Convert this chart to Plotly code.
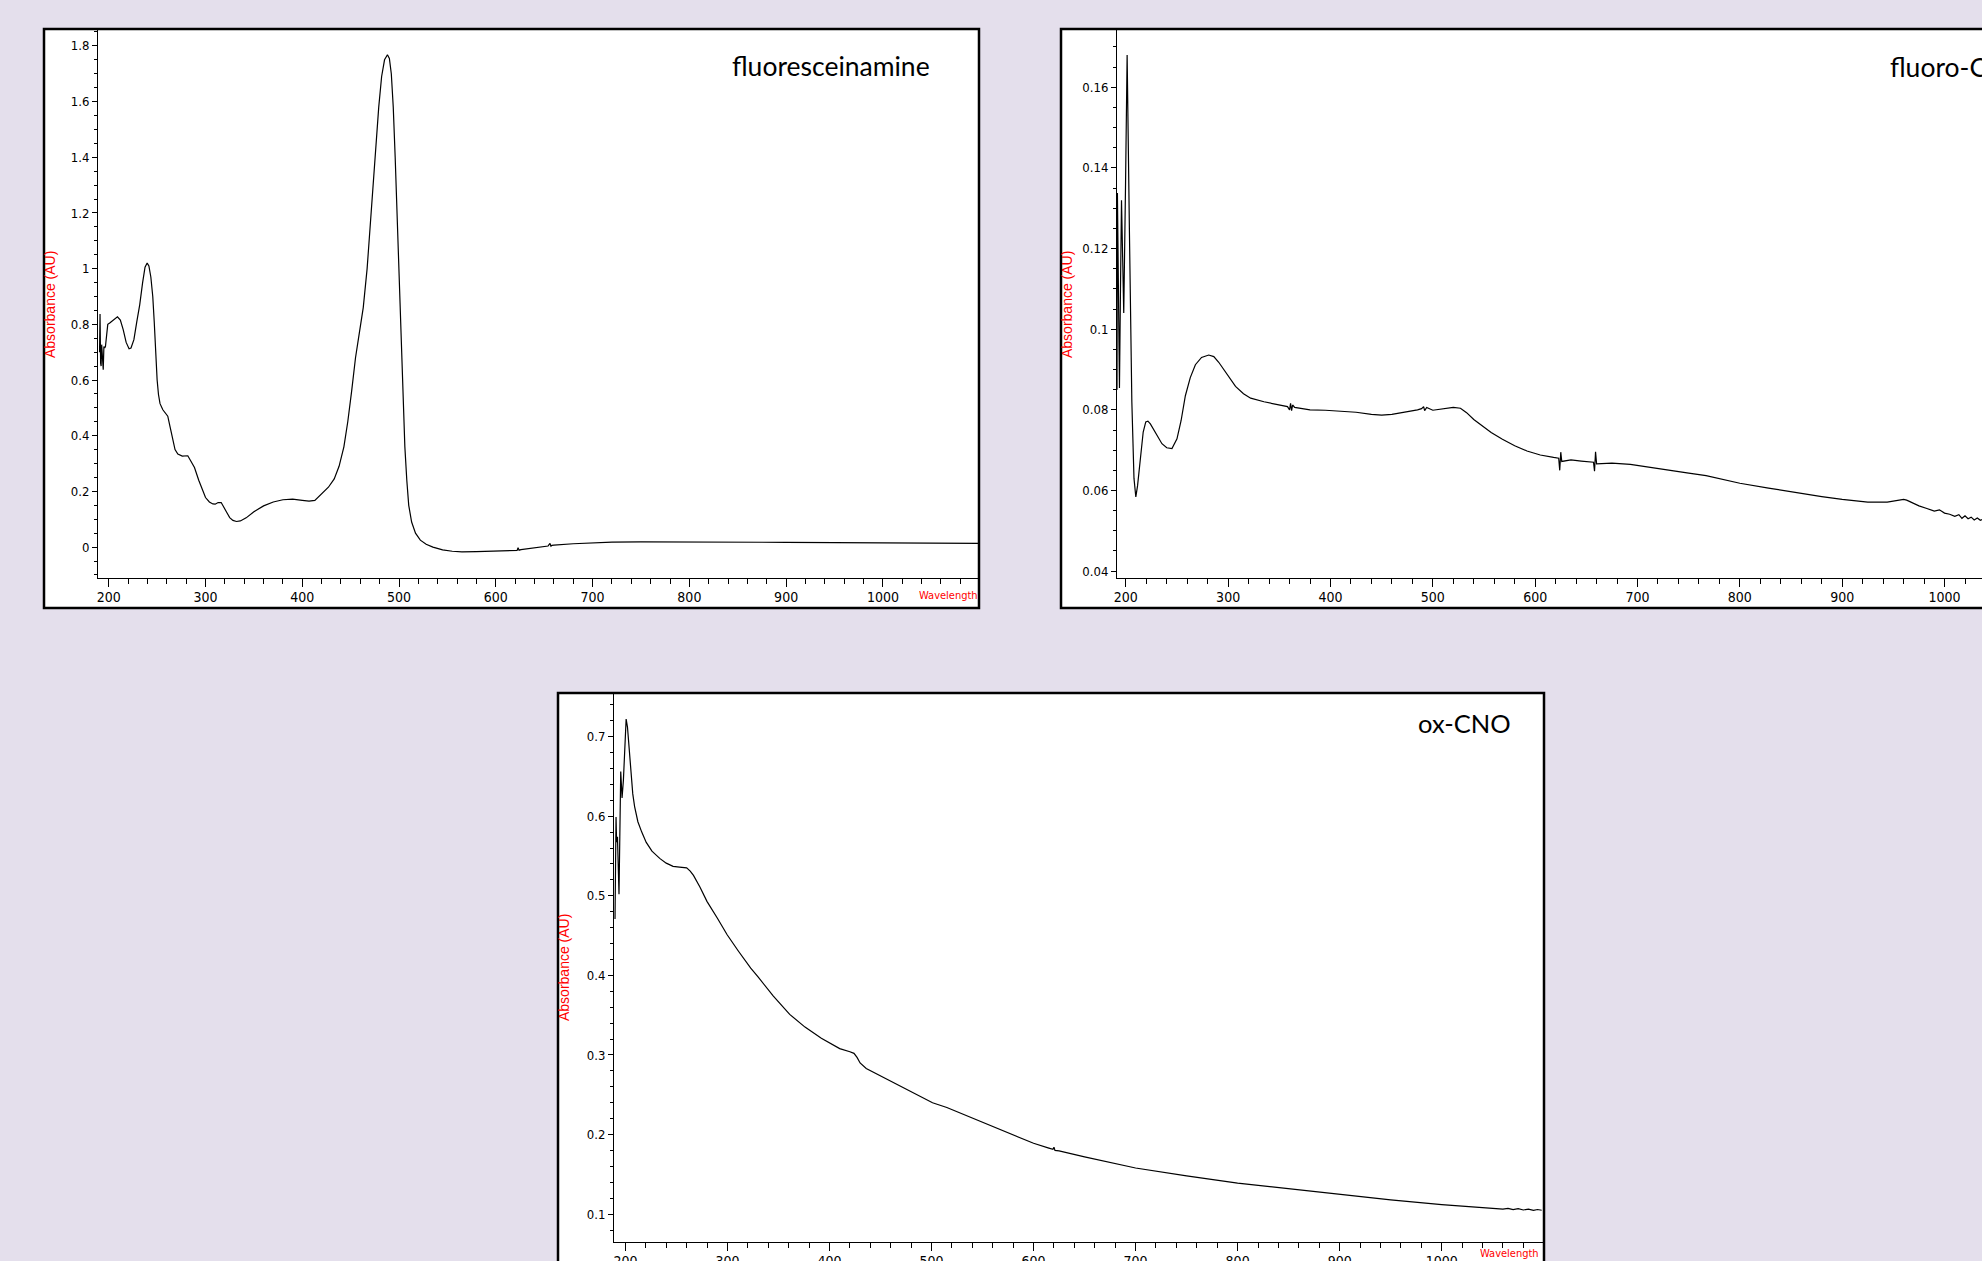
import plotly.graph_objects as go

W, H = 1982, 1261

# ---------------- data ----------------
fl_nm = [190.5, 191.0, 191.6, 192.1, 192.7, 193.2, 193.8, 194.3, 195.0, 195.8, 196.6, 198, 199, 201, 203, 206, 209,
         212, 215, 218, 221, 223, 226, 229, 232, 235, 237.5, 239.7, 241.5, 243.5, 245.5, 247, 248.5, 250, 251.4,
         253, 255.9, 258, 261, 263.5, 266.2, 268.5, 271.4, 276, 281.7, 285, 288.6, 293, 297, 300, 304, 307.6, 310,
         313, 316.2, 318.5, 321.4, 325, 328.3, 332, 336, 342, 350, 360, 370, 380, 390, 400, 407, 413, 420, 427,
         433, 438, 443, 447, 451, 455, 459, 463, 467, 471, 475, 479, 482, 485, 488, 490, 492, 494, 496, 498, 500,
         502, 504, 506, 508, 510, 513, 517, 522, 528, 535, 545, 555, 565, 580, 595, 610, 620, 622, 623, 624, 626,
         640, 654, 656, 657, 658, 660, 680, 700, 720, 750, 800, 850, 900, 950, 1000, 1050, 1099]
fl_abs = [0.70, 0.837, 0.66, 0.65, 0.727, 0.70, 0.64, 0.637, 0.72, 0.715, 0.72, 0.78, 0.80, 0.805, 0.81, 0.82, 0.827,
          0.815, 0.78, 0.735, 0.712, 0.715, 0.745, 0.81, 0.87, 0.95, 1.005, 1.02, 1.01, 0.97, 0.90, 0.81, 0.70, 0.60,
          0.548, 0.515, 0.493, 0.485, 0.47, 0.43, 0.383, 0.35, 0.334, 0.327, 0.328, 0.31, 0.286, 0.24, 0.20, 0.178,
          0.162, 0.155, 0.154, 0.16, 0.16, 0.148, 0.128, 0.106, 0.096, 0.092, 0.094, 0.105, 0.127, 0.148, 0.162,
          0.170, 0.172, 0.168, 0.165, 0.168, 0.19, 0.215, 0.245, 0.29, 0.36, 0.45, 0.56, 0.68, 0.77, 0.86, 1.0,
          1.19, 1.40, 1.58, 1.69, 1.75, 1.768, 1.755, 1.70, 1.58, 1.40, 1.18, 0.96, 0.72, 0.52, 0.36, 0.24, 0.15,
          0.09, 0.05, 0.025, 0.01, 0.0, -0.01, -0.015, -0.017, -0.016, -0.014, -0.012, -0.010, -0.012, -0.002,
          -0.011, -0.009, -0.003, 0.004, 0.013, 0.003, 0.006, 0.007, 0.012, 0.016, 0.018, 0.019, 0.019, 0.018,
          0.017, 0.016, 0.015, 0.014, 0.013]

fc_nm = [190.5, 190.9, 191.4, 191.8, 192.8, 193.8, 194.8, 195.8, 196.9, 198, 199.7, 201.3, 203.5, 205.9, 208, 209.8,
         211.5, 214, 217, 219.5, 221.6, 224, 228.8, 235.3, 240, 245.1, 250, 254, 258.2, 263, 268, 274, 281, 286,
         290.8, 298, 307.2, 315, 322, 335, 350, 358, 360, 361, 362, 363, 365, 380, 395, 410, 425, 440, 450, 460,
         475, 485, 489, 491, 492, 494, 500, 510, 520, 527, 533, 540, 548, 557, 568, 580, 592, 605, 618, 623, 624,
         625, 626, 635, 645, 652, 657, 658, 659, 660, 675, 693, 710, 730, 750, 767, 785, 800, 828, 858, 880, 900,
         925, 944, 955, 960, 963, 968, 975, 982, 990, 995, 1000, 1005, 1010, 1014, 1017, 1020, 1023, 1026, 1029,
         1032, 1035, 1038]
fc_abs = [0.0706, 0.1338, 0.085, 0.1338, 0.110, 0.0854, 0.11, 0.132, 0.118, 0.104, 0.135, 0.168, 0.125, 0.082, 0.063,
          0.0584, 0.0612, 0.0678, 0.0745, 0.0770, 0.0772, 0.0765, 0.0744, 0.0716, 0.0706, 0.0704, 0.0728, 0.0773,
          0.0835, 0.0880, 0.0912, 0.0930, 0.0936, 0.0932, 0.0918, 0.0893, 0.0858, 0.0840, 0.0829, 0.0820, 0.0812,
          0.0808, 0.0800, 0.0816, 0.0798, 0.0812, 0.0806, 0.0800, 0.0799, 0.0797, 0.0794, 0.0789, 0.0787, 0.0789,
          0.0795, 0.0800, 0.0803, 0.0808, 0.0798, 0.0806, 0.0799, 0.0802, 0.0806, 0.0804, 0.0793, 0.0776, 0.0760,
          0.0744, 0.0727, 0.0711, 0.0698, 0.0688, 0.0682, 0.0680, 0.0650, 0.0695, 0.0672, 0.0676, 0.0673, 0.0671,
          0.0670, 0.0648, 0.0696, 0.0666, 0.0668, 0.0665, 0.0659, 0.0651, 0.0643, 0.0637, 0.0626, 0.0618, 0.0606,
          0.0593, 0.0585, 0.0578, 0.0571, 0.0571, 0.0575, 0.0578, 0.0576, 0.0570, 0.0562, 0.0556, 0.0549, 0.0552,
          0.0544, 0.0541, 0.0536, 0.0540, 0.0531, 0.0537, 0.0530, 0.0534, 0.0527, 0.0532, 0.0526, 0.0529]

ox_nm = [189.8, 190.3, 190.8, 191.3, 191.7, 192.2, 193.0, 193.7, 195.4, 196.0, 196.7, 198, 199.5, 200.7, 202, 204, 206,
         207.2, 209, 212.2, 216, 220.4, 226, 233.6, 240, 246.7, 253, 260, 263.5, 266.7, 273, 279.9, 290, 299.7, 311,
         322.8, 330, 345, 361, 376, 392, 410, 420, 424, 427, 430, 436, 445, 454, 470, 486, 501, 515, 528, 545, 565,
         583, 600, 615, 619, 620, 621, 625, 650, 700, 750, 800, 850, 900, 950, 1000, 1040, 1055, 1060, 1065, 1070,
         1075, 1080, 1085, 1090, 1094, 1098]
ox_abs = [0.4707, 0.53, 0.599, 0.57, 0.5674, 0.574, 0.54, 0.502, 0.656, 0.63, 0.623, 0.645, 0.70, 0.722, 0.712, 0.679,
          0.645, 0.628, 0.612, 0.593, 0.58, 0.567, 0.556, 0.547, 0.541, 0.537, 0.536, 0.535, 0.531, 0.5256, 0.511,
          0.493, 0.472, 0.451, 0.43, 0.409, 0.398, 0.374, 0.351, 0.335, 0.321, 0.308, 0.304, 0.302, 0.297, 0.290,
          0.283, 0.277, 0.271, 0.260, 0.250, 0.240, 0.234, 0.227, 0.218, 0.208, 0.198, 0.189, 0.183, 0.1815, 0.184,
          0.180, 0.1795, 0.172, 0.158, 0.148, 0.139, 0.132, 0.125, 0.118, 0.112, 0.108, 0.107, 0.1062, 0.1072,
          0.1058, 0.1068, 0.1052, 0.1064, 0.1048, 0.1058, 0.1049]

titles = ["fluoresceinamine", "fluoro-CNO", "ox-CNO"]
y_label = "Absorbance (AU)"
x_label = "Wavelength (nm)"

# ---------------- helpers (pixel -> paper) ----------------
def fx(p):
    return p / W


def fy(p):
    return 1 - p / H


BG = "#E4DFEC"
NARROW = "Liberation Sans Narrow, Arial Narrow, DejaVu Sans Condensed, sans-serif"
TITLE_FONT = "Lato, Calibri, Open Sans, sans-serif"

fig = go.Figure()

line_style = dict(color="black", width=1.2)
fig.add_trace(go.Scatter(x=fl_nm, y=fl_abs, mode="lines", line=line_style, xaxis="x", yaxis="y",
                         showlegend=False, hoverinfo="skip"))
fig.add_trace(go.Scatter(x=fc_nm, y=fc_abs, mode="lines", line=line_style, xaxis="x2", yaxis="y2",
                         showlegend=False, hoverinfo="skip"))
fig.add_trace(go.Scatter(x=ox_nm, y=ox_abs, mode="lines", line=line_style, xaxis="x3", yaxis="y3",
                         showlegend=False, hoverinfo="skip"))

# clipped "Wavelength (nm)" labels via small hidden overlay axes
for xa, ya in [("x4", "y4"), ("x5", "y5")]:
    fig.add_trace(go.Scatter(x=[0], y=[0.5], mode="text", text=[x_label], textposition="middle right",
                             textfont=dict(family=NARROW, size=11, color="#FF0000"), xaxis=xa, yaxis=ya,
                             showlegend=False, hoverinfo="skip", cliponaxis=True))


def xax(domain, rng, anchor):
    return dict(domain=domain, range=rng, anchor=anchor, automargin=False, showline=True, linecolor="black",
                linewidth=1, ticks="outside", ticklen=8, tickwidth=1, tickcolor="black", tick0=0, dtick=100,
                ticklabelstandoff=-2,
                minor=dict(tick0=0, dtick=20, ticks="outside", ticklen=5, tickwidth=1, tickcolor="black",
                           showgrid=False),
                showgrid=False, zeroline=False, tickfont=dict(family=NARROW, size=14, color="black"),
                fixedrange=True)


def yax(domain, rng, anchor, dt, mdt):
    return dict(domain=domain, range=rng, anchor=anchor, automargin=False, showline=True, linecolor="black",
                linewidth=1, ticks="outside", ticklen=5, tickwidth=1, tickcolor="black", tick0=0, dtick=dt,
                minor=dict(tick0=0, dtick=mdt, ticks="outside", ticklen=3, tickwidth=1, tickcolor="black",
                           showgrid=False),
                showgrid=False, zeroline=False, tickfont=dict(family=NARROW, size=13, color="black"),
                fixedrange=True)


hidden = dict(visible=False, range=[0, 1], fixedrange=True, automargin=False)

fig.update_layout(
    width=W, height=H, autosize=False,
    margin=dict(l=0, r=0, t=0, b=0, pad=0, autoexpand=False),
    paper_bgcolor=BG, plot_bgcolor="rgba(0,0,0,0)",
    xaxis=xax([fx(98), fx(979)], [188.9, 1099.3], "y"),
    yaxis=yax([fy(578), fy(30)], [-0.111, 1.857], "x", 0.2, 0.05),
    xaxis2=xax([fx(1117), 1.0], [191.4, 1036.6], "y2"),
    yaxis2=yax([fy(578), fy(30)], [0.0383, 0.1742], "x2", 0.02, 0.005),
    xaxis3=xax([fx(614), fx(1543)], [188.8, 1099.3], "y3"),
    yaxis3=yax([fy(1242), fy(694)], [0.065, 0.7535], "x3", 0.1, 0.02),
    xaxis4=dict(hidden, domain=[fx(919), fx(978)], anchor="y4"),
    yaxis4=dict(hidden, domain=[fy(605), fy(587)], anchor="x4"),
    xaxis5=dict(hidden, domain=[fx(1480), fx(1542)], anchor="y5"),
    yaxis5=dict(hidden, domain=[0.0, fy(1248)], anchor="x5"),
)

# panel frames
frames = [(44, 29, 979, 608), (1061, 29, 2100, 608), (558, 693, 1544, 1320)]
for (x0, y0, x1, y1) in frames:
    fig.add_shape(type="rect", xref="paper", yref="paper", x0=fx(x0), x1=fx(x1), y0=fy(y1), y1=fy(y0),
                  line=dict(color="black", width=2.5), fillcolor="white", layer="below")

# titles
fig.add_annotation(text=titles[0], xref="paper", yref="paper", x=fx(932), y=fy(66), xanchor="right",
                   yanchor="middle", showarrow=False, font=dict(family=TITLE_FONT, size=26.5, color="black"))
fig.add_annotation(text=titles[1], xref="paper", yref="paper", x=fx(1888), y=fy(67), xanchor="left",
                   yanchor="middle", showarrow=False, font=dict(family=TITLE_FONT, size=26.5, color="black"))
fig.add_annotation(text=titles[2], xref="paper", yref="paper", x=fx(1513), y=fy(723), xanchor="right",
                   yanchor="middle", showarrow=False, font=dict(family=TITLE_FONT, size=25.5, color="black"))

# y-axis titles (red, rotated)
for (xp, yp) in [(50, 305), (1067, 305), (564, 968)]:
    fig.add_annotation(text=y_label, xref="paper", yref="paper", x=fx(xp), y=fy(yp), xanchor="center",
                       yanchor="middle", textangle=-90, showarrow=False,
                       font=dict(family="Liberation Sans, Arial, sans-serif", size=14, color="#FF0000"))

post = """
document.documentElement.style.margin = '0';
document.documentElement.style.overflow = 'hidden';
document.documentElement.style.background = '#E4DFEC';
document.body.style.margin = '0';
document.body.style.overflow = 'hidden';
document.body.style.background = '#E4DFEC';
"""

fig.write_html("out.html", config={"displayModeBar": False}, post_script=post)
